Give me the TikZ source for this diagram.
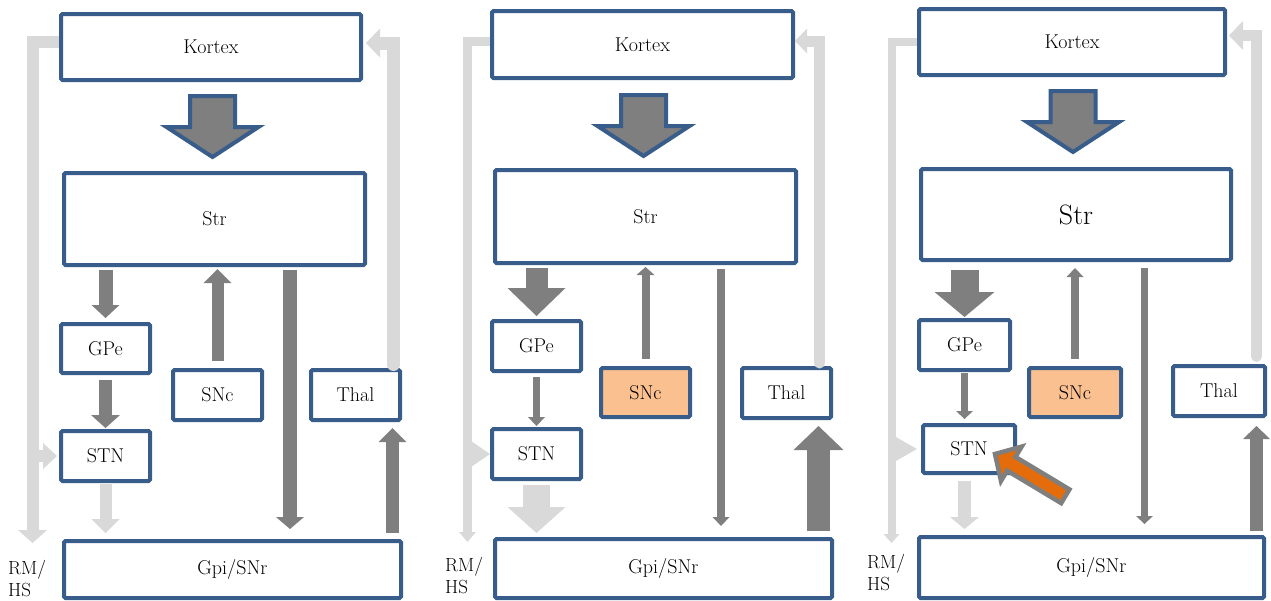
\documentclass[tikz,border=0pt]{standalone}
\usepackage{tikz}
\usetikzlibrary{arrows.meta}

\definecolor{areablue}{HTML}{385D8A}
\definecolor{flowgray}{HTML}{7F7F7F}
\definecolor{loopgray}{HTML}{D9D9D9}
\definecolor{sncfill}{HTML}{FAC090}
\definecolor{pointerfill}{HTML}{E46C0A}

\tikzset{
  area/.style={draw=areablue, line width=4pt, fill=white, rounded corners=1.5pt, inner sep=0pt, font=\fontsize{20}{24}\selectfont},
  rmtext/.style={align=left, anchor=north west, inner sep=0pt, font=\fontsize{19}{22}\selectfont},
  flow/.style n args={3}{draw=flowgray, line width=#1, line cap=butt, -{Triangle[width=#2, length=#3, line width=0pt]}},
  loopflow/.style n args={3}{flow={#1}{#2}{#3}, draw=loopgray},
  bigflow/.style={draw=areablue, fill=flowgray, line width=4pt, line join=miter},
  pics/inflow/.style={code={\draw[bigflow] (-22.5,0) -- (22.5,0) -- (22.5,31) -- (46,31) -- (0,61) -- (-46,31) -- (-22.5,31) -- cycle;}},
  pics/pointer/.style={code={\draw[draw=flowgray, fill=pointerfill, line width=4.5pt, line join=miter] (0,0) -- (-19,20) -- (-19,8) -- (-82,8) -- (-82,-8) -- (-19,-8) -- (-19,-20) -- cycle;}},
}

\begin{document}
\begin{tikzpicture}[x=1pt, y=-1pt]
\useasboundingbox (0,0) rectangle (1271,600);

% left panel
\node[area, minimum width=300pt, minimum height=66pt] (kortex1) at (211,47) {Kortex};
\node[area, minimum width=301pt, minimum height=92pt] (str1) at (214.5,219) {Str};
\node[area, minimum width=89pt, minimum height=49pt] (gpe1) at (105.5,348.5) {GPe};
\node[area, minimum width=89pt, minimum height=50pt] (stn1) at (105.5,456) {STN};
\node[area, minimum width=89pt, minimum height=50pt] (snc1) at (217.5,395) {SNc};
\node[area, minimum width=89pt, minimum height=50pt] (thal1) at (355.5,395) {Thal};
\node[area, minimum width=337pt, minimum height=57pt] (gpi1) at (232.5,569.5) {Gpi/SNr};
\node[rmtext] (rmhs1) at (8,560) {RM/\\HS};
\coordinate (hs1) at (32.5,543);

\pic at ([xshift=1.5pt, yshift=-14pt]kortex1.south) {inflow};
\draw[flow={14pt}{28pt}{13pt}, shorten <=3pt, shorten >=4pt] (gpe1.north |- str1.south) -- (gpe1.north);
\draw[flow={13pt}{29pt}{13pt}, shorten <=5pt, shorten >=1pt] (gpe1.south) -- (stn1.north);
\draw[loopflow={12pt}{28pt}{14pt}, shorten <=1pt, shorten >=6pt] (stn1.south) -- (stn1.south |- gpi1.north);
\draw[flow={12pt}{28pt}{14pt}, shorten <=7pt, shorten >=2pt] (snc1.north) -- (snc1.north |- str1.south);
\draw[flow={14pt}{28pt}{12pt}, shorten <=3pt, shorten >=10pt] (str1.south -| 290,0) -- (gpi1.north -| 290,0);
\draw[flow={13pt}{28pt}{14pt}, shorten <=6pt, shorten >=6pt] (gpi1.north -| 392.5,0) -- (thal1.south -| 392.5,0);
\draw[loopflow={12pt}{29pt}{13pt}] (kortex1.west |- 0,41.5) -| (hs1);
\draw[loopflow={12pt}{26pt}{14pt}, shorten >=2pt] (stn1.west -| hs1) -- (stn1.west);
\draw[loopflow={13pt}{29pt}{14pt}, line cap=round, shorten <=3.5pt, shorten >=3pt] (thal1.north -| 393.5,0) |- (kortex1.east |- 0,43);

% middle panel
\node[area, minimum width=301pt, minimum height=67pt] (kortex2) at (642.5,44.5) {Kortex};
\node[area, minimum width=301pt, minimum height=93pt] (str2) at (645.5,216.5) {Str};
\node[area, minimum width=89pt, minimum height=50pt] (gpe2) at (536.5,346) {GPe};
\node[area, minimum width=89pt, minimum height=50pt] (stn2) at (536.5,454) {STN};
\node[area, fill=sncfill, minimum width=89pt, minimum height=49pt] (snc2) at (645.5,392.5) {SNc};
\node[area, minimum width=89pt, minimum height=50pt] (thal2) at (786.5,393) {Thal};
\node[area, minimum width=337pt, minimum height=59pt] (gpi2) at (663.5,568.5) {Gpi/SNr};
\node[rmtext] (rmhs2) at (445,557) {RM/\\HS};
\coordinate (hs2) at (467.5,542);

\pic at ([xshift=1pt, yshift=-15pt]kortex2.south) {inflow};
\draw[flow={22pt}{58pt}{28pt}, shorten <=3pt, shorten >=3pt] (gpe2.north |- str2.south) -- (gpe2.north);
\draw[flow={7pt}{17pt}{9pt}, shorten <=4pt, shorten >=1pt] (gpe2.south) -- (stn2.north);
\draw[loopflow={27pt}{58pt}{26pt}, shorten <=4pt, shorten >=4pt] (stn2.south) -- (stn2.south |- gpi2.north);
\draw[flow={8pt}{18pt}{8pt}, shorten <=7pt, shorten >=2pt] (snc2.north) -- (snc2.north |- str2.south);
\draw[flow={8pt}{17pt}{9pt}, shorten <=4pt, shorten >=11pt] (str2.south -| 721,0) -- (gpi2.north -| 721,0);
\draw[flow={23pt}{50pt}{24pt}, shorten <=6pt, shorten >=6pt] (gpi2.north -| 818.5,0) -- (thal2.south -| 818.5,0);
\draw[loopflow={9pt}{17pt}{10pt}] (kortex2.west |- 0,41.5) -| (hs2);
\draw[loopflow={9pt}{26pt}{19pt}] (stn2.west -| hs2) -- (stn2.west);
\draw[loopflow={11pt}{25pt}{12pt}, line cap=round, shorten <=3pt] (thal2.north -| 819.5,0) |- (kortex2.east |- 0,41);

% right panel
\node[area, minimum width=306pt, minimum height=66pt] (kortex3) at (1072,42) {Kortex};
\node[area, minimum width=310pt, minimum height=91pt, font=\fontsize{28}{32}\selectfont] (str3) at (1076,214.5) {Str};
\node[area, minimum width=91pt, minimum height=50pt] (gpe3) at (964.5,345) {GPe};
\node[area, minimum width=92pt, minimum height=48pt] (stn3) at (969,449) {STN};
\node[area, fill=sncfill, minimum width=92pt, minimum height=49pt] (snc3) at (1075,392.5) {SNc};
\node[area, minimum width=92pt, minimum height=50pt] (thal3) at (1219,391) {Thal};
\node[area, minimum width=345pt, minimum height=61pt] (gpi3) at (1091.5,567.5) {Gpi/SNr};
\node[rmtext] (rmhs3) at (867,554) {RM/\\HS};
\coordinate (hs3) at (891.5,543);

\pic at ([xshift=1pt, yshift=-14pt]kortex3.south) {inflow};
\draw[flow={28pt}{60pt}{25pt}, shorten <=8pt, shorten >=1pt] (gpe3.north |- str3.south) -- (gpe3.north);
\draw[flow={7pt}{17pt}{8pt}, shorten <=1pt, shorten >=4pt] (gpe3.south) -- (gpe3.south |- stn3.north);
\draw[loopflow={13pt}{29pt}{12pt}, shorten <=6pt, shorten >=6pt] (stn3.south -| gpe3.south) -- (gpe3.south |- gpi3.north);
\draw[flow={8pt}{17pt}{9pt}, shorten <=7pt, shorten >=6pt] (snc3.north) -- (snc3.north |- str3.south);
\draw[flow={7pt}{17pt}{8pt}, shorten <=6pt, shorten >=11pt] (str3.south -| 1144.5,0) -- (gpi3.north -| 1144.5,0);
\draw[flow={13pt}{27pt}{13pt}, shorten <=4pt, shorten >=8pt] (gpi3.north -| 1256.5,0) -- (thal3.south -| 1256.5,0);
\draw[loopflow={8pt}{16pt}{9pt}] (kortex3.west |- 0,42) -| (hs3);
\draw[loopflow={8pt}{25pt}{22pt}, shorten >=4pt] (stn3.west -| hs3) -- (stn3.west);
\draw[loopflow={11pt}{29pt}{14pt}, line cap=round, shorten <=7.5pt, shorten >=2pt] (thal3.north -| 1256.5,0) |- (kortex3.east |- 0,35.5);
\pic[rotate=149] at ([xshift=26pt, yshift=-5pt]stn3.center) {pointer};
\end{tikzpicture}
\end{document}
